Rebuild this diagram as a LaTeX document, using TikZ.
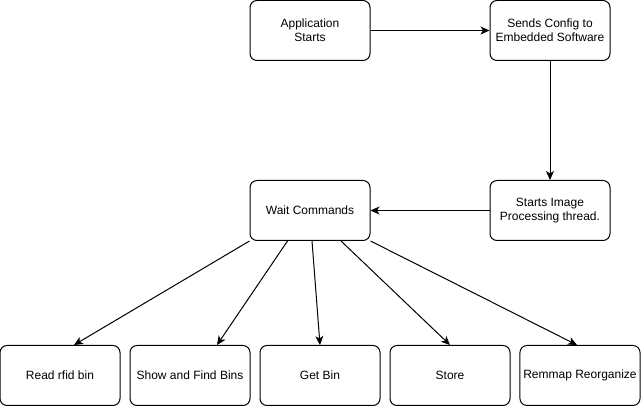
\documentclass[tikz,border=0pt]{standalone}
\usepackage{fontspec}
\setmainfont{Liberation Sans}
\usepackage{tikz}
\usetikzlibrary{shapes,arrows.meta,calc}
\tikzstyle{stepbox} = [rectangle, rounded corners=7pt, minimum width=120pt,
minimum height=60pt, text centered, align=center, draw=black, fill=white, line width=1pt,
font=\fontsize{12}{14.4}\selectfont]
\tikzstyle{flowArrow} = [line width=1pt,-{Stealth[length=9pt,width=8pt,inset=2.5pt]}]

\begin{document}
\begin{tikzpicture}[x=1pt,y=-1pt]
		\useasboundingbox (0,0) rectangle (641,406);
		%blocks
		\node[stepbox](app) at (310,30.5){Application\\Starts};
		\node[stepbox, right of=app, node distance=240pt](config){Sends Config to\\Embedded Software};
		\node[stepbox, below of=config, node distance=180pt](imgproc){Starts Image\\Processing thread.};
		\node[stepbox, left of=imgproc, node distance=240pt](wait){Wait Commands};
		\node[stepbox, below of=wait, node distance=165pt, xshift=10pt](getbin){Get Bin};
		\node[stepbox, left of=getbin, node distance=130pt](findbins){Show and Find Bins};
		\node[stepbox, left of=getbin, node distance=260pt](readrfid){Read rfid bin};
		\node[stepbox, right of=getbin, node distance=130pt](store){Store};
		\node[stepbox, right of=getbin, node distance=260pt](remap){Remmap Reorganize};

		%arrows
		\draw[flowArrow](app)--(config);
		\draw[flowArrow](config)--(imgproc);
		\draw[flowArrow](imgproc)--(wait);
		\draw[flowArrow](wait.south west)--($(readrfid.north)+(14,0)$);
		\draw[flowArrow]($(wait.south west)+(38,0)$)--($(findbins.north)+(27,0)$);
		\draw[flowArrow]($(wait.south)+(2,0)$)--(getbin.north);
		\draw[flowArrow]($(wait.south)+(31,0)$)--(store.north);
		\draw[flowArrow](wait.south east)--($(remap.north)+(-3,0)$);
	\end{tikzpicture}
\end{document}
